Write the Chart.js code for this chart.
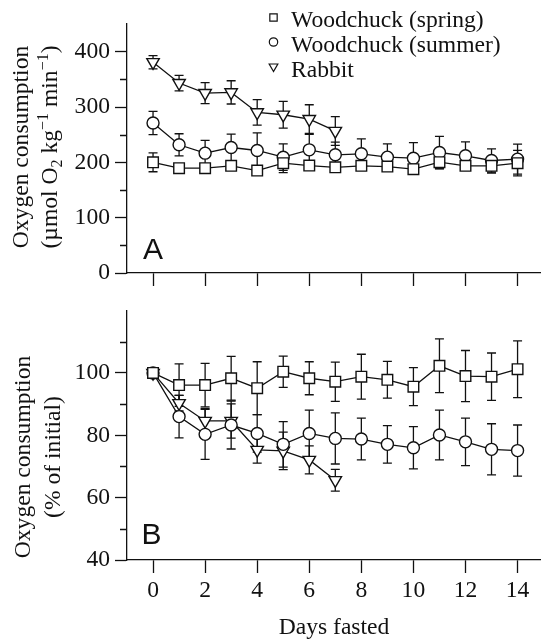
<!DOCTYPE html>
<html>
<head>
<meta charset="utf-8">
<script src="https://cdn.jsdelivr.net/npm/chart.js@4.4.1/dist/chart.umd.min.js"></script>
<style>
  html, body { margin: 0; padding: 0; background: #fff; }
  .panel { position: absolute; left: 0; display: block; }
  #chartA { top: 0; }
  #chartB { top: 290px; }
</style>
</head>
<body>
<canvas id="chartA" class="panel" width="541" height="300"></canvas>
<canvas id="chartB" class="panel" width="541" height="349"></canvas>
<script>
// ==================== DATA ====================
const days = [0, 1, 2, 3, 4, 5, 6, 7, 8, 9, 10, 11, 12, 13, 14];
const rabbitDays = [0, 1, 2, 3, 4, 5, 6, 7];

// panel A: absolute oxygen consumption (umol O2 kg-1 min-1), mean and SE
const springA = [200, 189.5, 189.5, 193.7, 185.2, 198.5, 194.2, 191, 193.7, 192.4, 187.6, 200.3, 193.7, 193.7, 198.5];
const springAErr = [17, 6, 6, 6, 6, 17, 6, 6, 6, 6, 6, 12, 6, 13, 23];
const summerA = [271, 231.7, 216.6, 226.8, 221.4, 209.3, 222.6, 213.6, 215.4, 209.4, 207.5, 217.8, 211.8, 203.3, 205.8];
const summerAErr = [21, 20, 23, 24, 32, 24, 28, 23, 27, 24, 28, 29, 25, 21, 27];
const rabbitA = [381, 343.3, 325.2, 326.4, 290.2, 286, 278.1, 256.7];
const rabbitAErr = [12, 14, 19, 21, 23, 24, 26, 26];

// panel B: % of initial
const springB = [100, 96.1, 96.1, 98.3, 95.1, 100.4, 98.3, 97.2, 98.8, 97.8, 95.6, 102.3, 99, 98.8, 101.2];
const springBErr = [0, 6.8, 7, 7, 8.5, 5, 5.3, 6.3, 7.2, 5.9, 6.1, 8.6, 8.2, 7.6, 9.1];
const summerB = [100, 86, 80.3, 83.3, 80.6, 77.1, 80.6, 79, 78.8, 77.1, 76, 80.1, 77.9, 75.5, 75.1];
const summerBErr = [0, 6.8, 8, 7.7, 6, 7.3, 7.5, 8.2, 6.7, 6, 6.8, 8, 7.6, 8.2, 8.2];
const rabbitB = [100, 90.3, 84.6, 84.6, 75.3, 75, 72.1, 65.6];
const rabbitBErr = [0, 2.5, 4, 5.5, 4.2, 6, 4.5, 3.5];

const xTicks = [0, 2, 4, 6, 8, 10, 12, 14];
const yTicksA = [0, 100, 200, 300, 400];
const yMinorA = [50, 150, 250, 350];
const yTicksB = [40, 60, 80, 100];
const yMinorB = [50, 70, 90, 110];
const legendLabels = ['Woodchuck (spring)', 'Woodchuck (summer)', 'Rabbit'];

// ==================== STYLE ====================
const SERIF = '"Liberation Serif", "Times New Roman", serif';
const SANS = '"Liberation Sans", Arial, sans-serif';
const INK = '#111';
const FS = 23.6;
const markers = [
    { pointStyle: 'rect', radius: 7.5, rotation: 0 },
    { pointStyle: 'circle', radius: 6, rotation: 0 },
    { pointStyle: 'triangle', radius: 7.2, rotation: 180 }
];

function makeSeries(label, xs, ys, errs, m) {
    return {
        label: label,
        data: ys.map((y, i) => ({ x: xs[i], y: y })),
        errors: errs,
        borderColor: INK,
        borderWidth: 1.3,
        backgroundColor: '#fff',
        pointStyle: m.pointStyle,
        pointRadius: m.radius,
        pointRotation: m.rotation,
        pointBorderWidth: 1.4,
        pointBackgroundColor: '#fff',
        pointBorderColor: INK,
        tension: 0,
        fill: false
    };
}

// ==================== PLUGINS ====================
const errorBars = {
    id: 'errorBars',
    beforeDatasetsDraw(chart) {
        const { ctx, scales } = chart;
        ctx.save();
        ctx.strokeStyle = INK;
        ctx.lineWidth = 1.3;
        chart.data.datasets.forEach(ds => {
            ds.data.forEach((p, i) => {
                const e = ds.errors[i];
                if (!e) return;
                const px = scales.x.getPixelForValue(p.x);
                const top = scales.y.getPixelForValue(p.y + e);
                const bot = scales.y.getPixelForValue(p.y - e);
                ctx.beginPath();
                ctx.moveTo(px, top); ctx.lineTo(px, bot);
                ctx.moveTo(px - 4.5, top); ctx.lineTo(px + 4.5, top);
                ctx.moveTo(px - 4.5, bot); ctx.lineTo(px + 4.5, bot);
                ctx.stroke();
            });
        });
        ctx.restore();
    }
};

// draws a line of text rotated 90deg, centred on cy, with sub/superscript parts
function drawRotated(ctx, parts, baseX, cy, size) {
    const small = Math.round(size * 0.68);
    const fontOf = p => (p.sub || p.sup ? small : size) + 'px ' + SERIF;
    let total = 0;
    parts.forEach(p => { ctx.font = fontOf(p); total += ctx.measureText(p.t).width; });
    ctx.save();
    ctx.translate(baseX, cy);
    ctx.rotate(-Math.PI / 2);
    ctx.textBaseline = 'alphabetic';
    ctx.textAlign = 'left';
    let pos = -total / 2;
    parts.forEach(p => {
        ctx.font = fontOf(p);
        const dy = p.sub ? size * 0.22 : (p.sup ? -size * 0.38 : 0);
        ctx.fillText(p.t, pos, dy);
        pos += ctx.measureText(p.t).width;
    });
    ctx.restore();
}

const panelDecor = {
    id: 'panelDecor',
    afterDraw(chart, args, opts) {
        const { ctx, chartArea, scales } = chart;
        ctx.save();
        ctx.strokeStyle = INK;
        ctx.fillStyle = INK;
        ctx.lineWidth = 1.3;

        // minor y ticks
        ctx.beginPath();
        opts.minor.forEach(v => {
            const py = Math.round(scales.y.getPixelForValue(v)) + 0.5;
            ctx.moveTo(chartArea.left - 7, py);
            ctx.lineTo(chartArea.left, py);
        });
        ctx.stroke();

        // panel letter
        ctx.font = '30px ' + SANS;
        ctx.textBaseline = 'alphabetic';
        ctx.textAlign = 'left';
        ctx.fillText(opts.letter, opts.letterX, opts.letterY);

        // y axis title
        opts.titleLines.forEach((parts, i) => drawRotated(ctx, parts, opts.titleX[i], opts.titleY, FS));

        // x axis title
        if (opts.xTitle) {
            ctx.font = FS + 'px ' + SERIF;
            ctx.textAlign = 'center';
            ctx.fillText(opts.xTitle, (chartArea.left + chartArea.right) / 2, opts.xTitleY);
        }

        // legend
        if (opts.legend) {
            chart.data.datasets.forEach((ds, i) => {
                const mx = 273.5, my = 17.5 + i * 24.5;
                ctx.lineWidth = 1.2;
                ctx.fillStyle = '#fff';
                ctx.strokeStyle = INK;
                Chart.helpers.drawPoint(ctx, {
                    pointStyle: markers[i].pointStyle,
                    radius: markers[i].pointStyle === 'rect' ? 5.2 : (markers[i].pointStyle === 'circle' ? 4.2 : 5),
                    rotation: markers[i].rotation,
                    borderWidth: 1.2
                }, mx, my);
                ctx.fillStyle = INK;
                ctx.font = FS + 'px ' + SERIF;
                ctx.textAlign = 'left';
                ctx.textBaseline = 'alphabetic';
                ctx.fillText(legendLabels[i], 291, 27 + i * 25);
            });
        }
        ctx.restore();
    }
};

// ==================== CHARTS ====================
function axisOptions(yMin, yMax, yTicks, yWidth, xHeight, showXLabels) {
    const tickFont = { family: SERIF, size: FS };
    return {
        x: {
            type: 'linear',
            min: -1,
            max: 14.9,
            afterBuildTicks: s => { s.ticks = xTicks.map(v => ({ value: v })); },
            afterFit: s => { s.height = xHeight; },
            border: { display: true, color: INK, width: 1.3 },
            grid: { drawOnChartArea: false, drawTicks: true, tickLength: 13, tickColor: INK, tickWidth: 1.3, color: INK },
            ticks: { display: showXLabels, font: tickFont, color: INK, padding: 4, autoSkip: false, maxRotation: 0, callback: v => v }
        },
        y: {
            type: 'linear',
            min: yMin,
            max: yMax,
            afterBuildTicks: s => { s.ticks = yTicks.map(v => ({ value: v })); },
            afterFit: s => { s.width = yWidth; },
            border: { display: true, color: INK, width: 1.3 },
            grid: { drawOnChartArea: false, drawTicks: true, tickLength: 12, tickColor: INK, tickWidth: 1.3, color: INK },
            ticks: { font: tickFont, color: INK, padding: 5, callback: v => v }
        }
    };
}

new Chart(document.getElementById('chartA'), {
    type: 'line',
    data: {
        datasets: [
            makeSeries(legendLabels[0], days, springA, springAErr, markers[0]),
            makeSeries(legendLabels[1], days, summerA, summerAErr, markers[1]),
            makeSeries(legendLabels[2], rabbitDays, rabbitA, rabbitAErr, markers[2])
        ]
    },
    options: {
        responsive: false,
        devicePixelRatio: 1,
        animation: false,
        events: [],
        layout: { autoPadding: false, padding: { top: 24, right: 0, bottom: 0, left: 0 } },
        scales: axisOptions(0, 450, yTicksA, 127, 27, false),
        plugins: {
            legend: { display: false },
            tooltip: { enabled: false },
            panelDecor: {
                minor: yMinorA,
                letter: 'A', letterX: 143, letterY: 259,
                titleLines: [
                    [{ t: 'Oxygen consumption' }],
                    [{ t: '(\u00b5mol O' }, { t: '2', sub: true }, { t: ' kg' }, { t: '\u22121', sup: true },
                     { t: ' min' }, { t: '\u22121', sup: true }, { t: ')' }]
                ],
                titleX: [27.5, 56.5], titleY: 147,
                legend: true
            }
        }
    },
    plugins: [errorBars, panelDecor]
});

new Chart(document.getElementById('chartB'), {
    type: 'line',
    data: {
        datasets: [
            makeSeries(legendLabels[0], days, springB, springBErr, markers[0]),
            makeSeries(legendLabels[1], days, summerB, summerBErr, markers[1]),
            makeSeries(legendLabels[2], rabbitDays, rabbitB, rabbitBErr, markers[2])
        ]
    },
    options: {
        responsive: false,
        devicePixelRatio: 1,
        animation: false,
        events: [],
        layout: { autoPadding: false, padding: { top: 20.6, right: 0, bottom: 0, left: 0 } },
        scales: axisOptions(40, 120, yTicksB, 127, 79, true),
        plugins: {
            legend: { display: false },
            tooltip: { enabled: false },
            panelDecor: {
                minor: yMinorB,
                letter: 'B', letterX: 141.5, letterY: 253.5,
                titleLines: [
                    [{ t: 'Oxygen consumption' }],
                    [{ t: '(% of initial)' }]
                ],
                titleX: [30, 60], titleY: 167,
                xTitle: 'Days fasted', xTitleY: 344,
                legend: false
            }
        }
    },
    plugins: [errorBars, panelDecor]
});
</script>
</body>
</html>
